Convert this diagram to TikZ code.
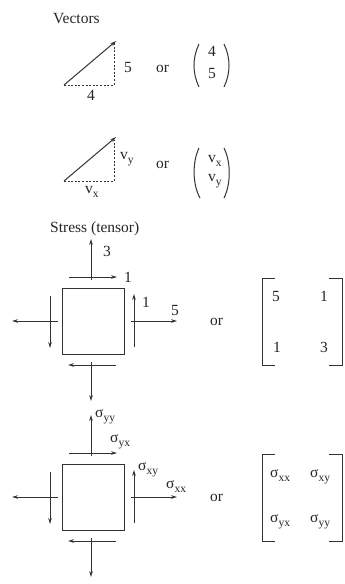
\documentclass[tikz,border=0pt]{standalone}
\usepackage{fontspec}
\setmainfont{Liberation Serif}
\usetikzlibrary{arrows.meta}
\newcommand{\sbs}[1]{\raisebox{-0.28em}{\fontsize{11.5}{12}\selectfont #1}}
\tikzset{
  arr/.style={-{Stealth[length=6pt,width=3.6pt]}},
  ln/.style={line width=1pt, draw=black!80},
  dsh/.style={line width=1pt, draw=black!80, dash pattern=on 2pt off 1.6pt},
  lbl/.style={inner sep=0pt, anchor=base west, font=\fontsize{15.5}{18}\selectfont, text=black!85},
}
\begin{document}
\begin{tikzpicture}[x=1pt,y=-1pt]
\useasboundingbox[fill=white] (0,0) rectangle (345,584);

% ---- Vectors ----
\node[lbl] (tvec) at (53,23) {Vectors};

\coordinate (a1) at (64,85);
\coordinate (b1) at (116,41);
\coordinate (c1) at (114,85);
\coordinate (d1) at (114,43);
\draw[ln,arr] (a1) -- (b1);
\draw[dsh] (a1) -- (c1) -- (d1);
\node[lbl] (l5) at (124,72) {5};
\node[lbl] (l4) at (87,100) {4};
\node[lbl] (or1) at (156,72) {or};
\draw[ln] (199,44) .. controls (192.3,58) and (192.3,73) .. (199,87);
\draw[ln] (224,44) .. controls (230.7,58) and (230.7,73) .. (224,87);
\node[lbl] (p4) at (208,56) {4};
\node[lbl] (p5) at (208,78) {5};

\coordinate (a2) at (64,181);
\coordinate (b2) at (116,137);
\coordinate (c2) at (114,181);
\coordinate (d2) at (114,140);
\draw[ln,arr] (a2) -- (b2);
\draw[dsh] (a2) -- (c2) -- (d2);
\node[lbl] (lvy) at (120,159) {v\sbs{y}};
\node[lbl] (lvx) at (85,193) {v\sbs{x}};
\node[lbl] (or2) at (156,168) {or};
\draw[ln] (199,148) .. controls (192.3,162) and (192.3,184) .. (200,198);
\draw[ln] (224,148) .. controls (231,162) and (231,184) .. (224,198);
\node[lbl] (pvx) at (208,162) {v\sbs{x}};
\node[lbl] (pvy) at (208,181) {v\sbs{y}};

% ---- Stress ----
\node[lbl] (tstr) at (50,232) {Stress (tensor)};

\foreach \dy in {0,176}{
\begin{scope}[shift={(0,\dy)}]
  \node[ln, draw, minimum width=62pt, minimum height=66pt, inner sep=0pt] (sq) at (93,321) {};
  \draw[ln,arr] (91,280) -- (91,239);
  \draw[ln,arr] (69,277) -- (117,277);
  \draw[ln,arr] (134,347) -- (134,294);
  \draw[ln,arr] (131,321) -- (177,321);
  \draw[ln,arr] (50,296) -- (50,348);
  \draw[ln,arr] (58,321) -- (12,321);
  \draw[ln,arr] (91,362) -- (91,401);
  \draw[ln,arr] (116,365) -- (68,365);
  % matrix brackets
  \draw[ln] (275,278) -- (262,278) -- (262,365) -- (275,365);
  \draw[ln] (329,278) -- (342,278) -- (342,365) -- (329,365);
  \node[lbl] at (210,325) {or};
\end{scope}
}

\node[lbl] (s3) at (103,256) {3};
\node[lbl] (s1a) at (124,282) {1};
\node[lbl] (s1b) at (142,307) {1};
\node[lbl] (s5) at (171,315) {5};
\node[lbl] (m11) at (272,301) {5};
\node[lbl] (m12) at (320,301) {1};
\node[lbl] (m21) at (273,352) {1};
\node[lbl] (m22) at (320,352) {3};

\node[lbl] (syy) at (95,417) {σ\sbs{yy}};
\node[lbl] (syx) at (110,442) {σ\sbs{yx}};
\node[lbl] (sxy) at (138,470) {σ\sbs{xy}};
\node[lbl] (sxx) at (166,488) {σ\sbs{xx}};
\node[lbl] (n11) at (270,477) {σ\sbs{xx}};
\node[lbl] (n12) at (310,477) {σ\sbs{xy}};
\node[lbl] (n21) at (270,522) {σ\sbs{yx}};
\node[lbl] (n22) at (310,522) {σ\sbs{yy}};
\end{tikzpicture}
\end{document}
